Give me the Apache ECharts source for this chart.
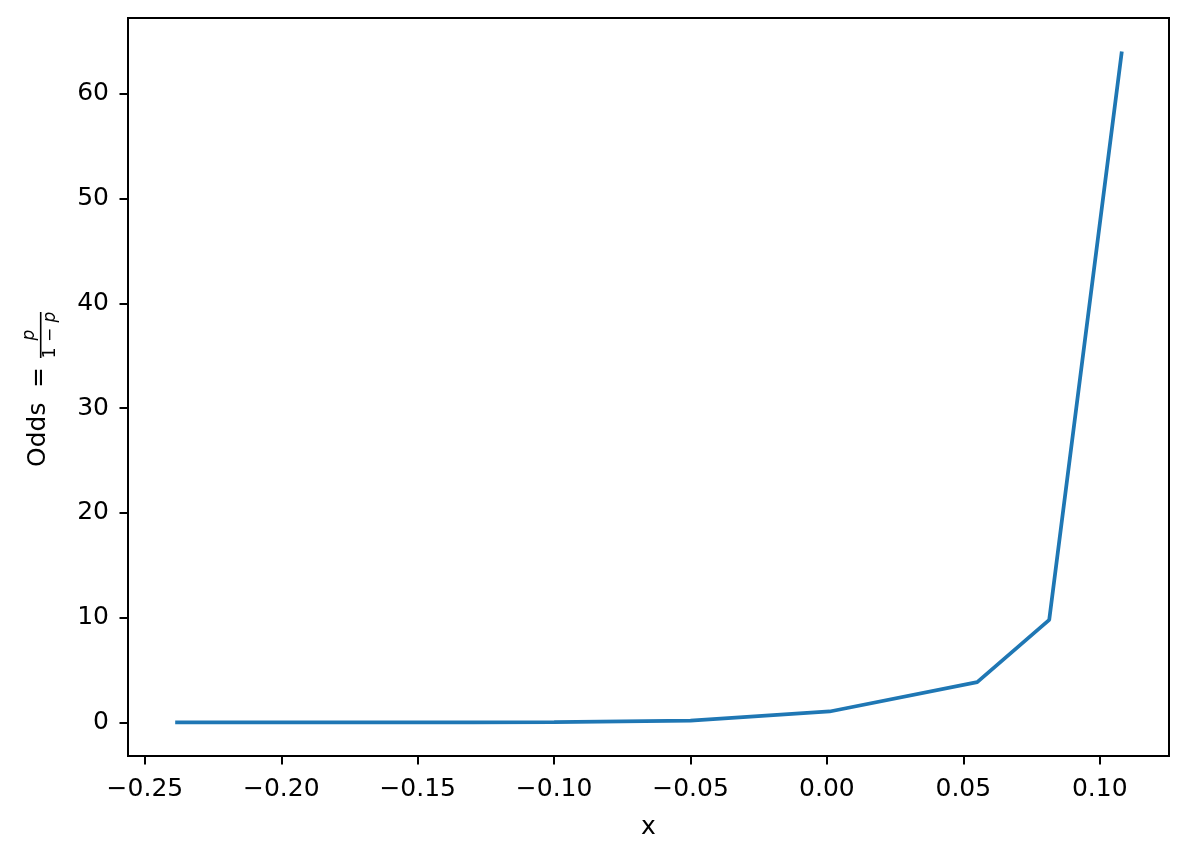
<!DOCTYPE html>
<html>
<head>
<meta charset="utf-8">
<script src="https://cdn.jsdelivr.net/npm/echarts@6/dist/echarts.min.js"></script>
<style>
html,body{margin:0;padding:0;background:#fff;}
#chart{width:1189px;height:858px;}
</style>
</head>
<body>
<div id="chart"></div>
<script>
// Data
const xValues = [-0.2389, -0.185, -0.13, -0.10, -0.05, 0.001, 0.0551, 0.0815, 0.1081];
const oddsValues = [0.0, 0.003, 0.01, 0.04, 0.17, 1.05, 3.85, 9.8, 64.05];
const xTicks = [-0.25, -0.20, -0.15, -0.10, -0.05, 0.00, 0.05, 0.10];
const yTicks = [0, 10, 20, 30, 40, 50, 60];
const xRange = [-0.2562, 0.1254];
const yRange = [-3.2, 67.25];

const font = 'DejaVu Sans';
const seriesData = xValues.map((x, i) => [x, oddsValues[i]]);

const chart = echarts.init(document.getElementById('chart'), null, {renderer: 'canvas'});
chart.setOption({
  animation: false,
  backgroundColor: '#fff',
  grid: {left: 128, right: 20, top: 18, bottom: 102, show: true, borderColor: '#000', borderWidth: 2, backgroundColor: 'transparent'},
  xAxis: {
    type: 'value', min: xRange[0], max: xRange[1],
    name: 'x', nameLocation: 'middle', nameGap: 59,
    nameTextStyle: {fontFamily: font, fontSize: 25, color: '#000'},
    axisLine: {show: true, onZero: false, lineStyle: {color: '#000', width: 2}},
    axisTick: {show: true, length: 8.5, lineStyle: {color: '#000', width: 2}, customValues: xTicks},
    axisLabel: {
      margin: 21, fontFamily: font, fontSize: 25, color: '#000',
      customValues: xTicks,
      formatter: v => v.toFixed(2).replace('-', '\u2212')
    },
    splitLine: {show: false}
  },
  yAxis: {
    type: 'value', min: yRange[0], max: yRange[1],
    axisLine: {show: true, onZero: false, lineStyle: {color: '#000', width: 2}},
    axisTick: {show: true, length: 8.5, lineStyle: {color: '#000', width: 2}, customValues: yTicks},
    axisLabel: {
      margin: 19, fontFamily: font, fontSize: 25, color: '#000',
      customValues: yTicks,
      formatter: v => String(Math.round(v))
    },
    splitLine: {show: false}
  },
  graphic: [{
    type: 'group', x: 38, y: 467, rotation: Math.PI / 2,
    children: [
      {type: 'text', x: 0, y: 0, style: {text: 'Odds', fontFamily: font, fontSize: 25, fill: '#000', align: 'left', verticalAlign: 'middle'}},
      {type: 'text', x: 79, y: 1, style: {text: '=', fontFamily: font, fontSize: 25, fill: '#000', align: 'left', verticalAlign: 'middle'}},
      {type: 'rect', shape: {x: 109, y: 1.9, width: 46, height: 1.6}, style: {fill: '#000'}},
      {type: 'text', x: 132, y: -8, style: {text: 'p', fontFamily: font, fontSize: 17, fontStyle: 'italic', fill: '#000', align: 'center', verticalAlign: 'middle'}},
      {type: 'text', x: 132, y: 13, style: {
        text: '{n|1 \u2212 }{i|p}', fontFamily: font, fontSize: 17, fill: '#000', align: 'center', verticalAlign: 'middle',
        rich: {
          n: {fontFamily: font, fontSize: 17, fill: '#000'},
          i: {fontFamily: font, fontSize: 17, fontStyle: 'italic', fill: '#000'}
        }
      }}
    ]
  }],
  series: [{
    type: 'line', data: seriesData, showSymbol: false, symbol: 'none',
    lineStyle: {color: '#1f77b4', width: 3.75}, itemStyle: {color: '#1f77b4'},
    clip: false
  }]
});
</script>
</body>
</html>
